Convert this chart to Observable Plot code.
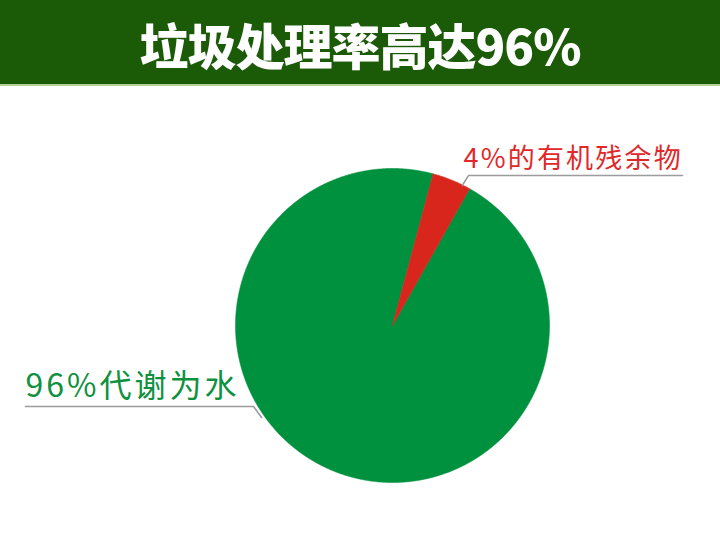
<!DOCTYPE html>
<html>
<head>
<meta charset="utf-8">
<script src="https://cdn.jsdelivr.net/npm/d3@7"></script>
<script src="https://cdn.jsdelivr.net/npm/@observablehq/plot@0.6"></script>
<style>
  html, body { margin: 0; padding: 0; background: #ffffff; }
  #header {
    height: 84px;
    background: #1b5a06;
    border-bottom: 2px solid #b3d09a;
    color: #ffffff;
    font-family: "Noto Sans CJK SC", sans-serif;
    font-weight: 900;
    font-size: 49px;
    line-height: 88px;
    text-align: center;
    letter-spacing: -1px;
  }
  #chart svg { display: block; }
</style>
</head>
<body>
<div id="header"></div>
<div id="chart"></div>
<script>
// ---- data ----
const title = "垃圾处理率高达96%";
const categories = ["96%代谢为水", "4%的有机残余物"];
const shares = [96, 4];

// ---- styles / layout ----
const sliceColors = ["#00913f", "#d9261c"];
const labelColors = ["#10913f", "#e0282a"];
const W = 720, H = 454;
const R = 157, CX = 392, CY = 239;

document.getElementById("header").textContent = title;

const table = categories.map((c, i) => ({category: c, share: shares[i]}));

// red slice starts at ~15° clockwise from 12 o'clock
const startDeg = 15 + 360 * shares[1] / 100;
const arcs = d3.pie().sort(null).value(d => d.share)
  .startAngle(startDeg * Math.PI / 180)
  .endAngle(startDeg * Math.PI / 180 + 2 * Math.PI)(table);

// polygon vertices in unit-circle coordinates (y up)
const pts = [];
for (const a of arcs) {
  const n = Math.max(8, Math.ceil((a.endAngle - a.startAngle) / (Math.PI / 720)));
  pts.push({category: a.data.category, x: 0, y: 0});
  for (let k = 0; k <= n; k++) {
    const t = a.startAngle + (a.endAngle - a.startAngle) * k / n;
    pts.push({category: a.data.category, x: Math.sin(t), y: Math.cos(t)});
  }
  pts.push({category: a.data.category, x: 0, y: 0});
}

// leader lines (unit coordinates, layout only)
const leaders = [
  {category: categories[0], path: [[-2.338, -0.516], [-0.885, -0.516], [-0.834, -0.586]]},
  {category: categories[1], path: [[0.445, 0.893], [0.484, 0.955], [1.847, 0.955]]}
].flatMap(l => l.path.map(([x, y]) => ({category: l.category, x, y})));

const labels = [
  {category: categories[0], x: -2.338, y: -0.516 + 10 / R, size: 32, spacing: 3, color: labelColors[0]},
  {category: categories[1], x: 0.452, y: 0.955 + 8 / R, size: 27, spacing: 2.2, color: labelColors[1]}
];

const chart = Plot.plot({
  width: W,
  height: H,
  margin: 0,
  style: {background: "#ffffff"},
  x: {domain: [-1, 1], range: [CX - R, CX + R], axis: null},
  y: {domain: [-1, 1], range: [CY + R, CY - R], axis: null},
  color: {domain: categories, range: sliceColors},
  marks: [
    Plot.line(pts, {x: "x", y: "y", z: "category", fill: "category", stroke: "category", strokeWidth: 0.6, curve: "linear"}),
    Plot.line(leaders, {x: "x", y: "y", z: "category", stroke: "#9c9c9c", strokeWidth: 1.6}),
    ...labels.map(l => Plot.text([l], {
      x: "x", y: "y", text: "category",
      textAnchor: "start", lineAnchor: "bottom",
      fill: l.color, fontSize: l.size,
      fontFamily: "Noto Sans CJK SC, sans-serif"
    }))
  ]
});

// apply letter spacing to label texts
chart.querySelectorAll('g[aria-label="text"]').forEach((g, i) => {
  g.style.letterSpacing = labels[i].spacing + "px";
});
document.getElementById("chart").appendChild(chart);
</script>
</body>
</html>
